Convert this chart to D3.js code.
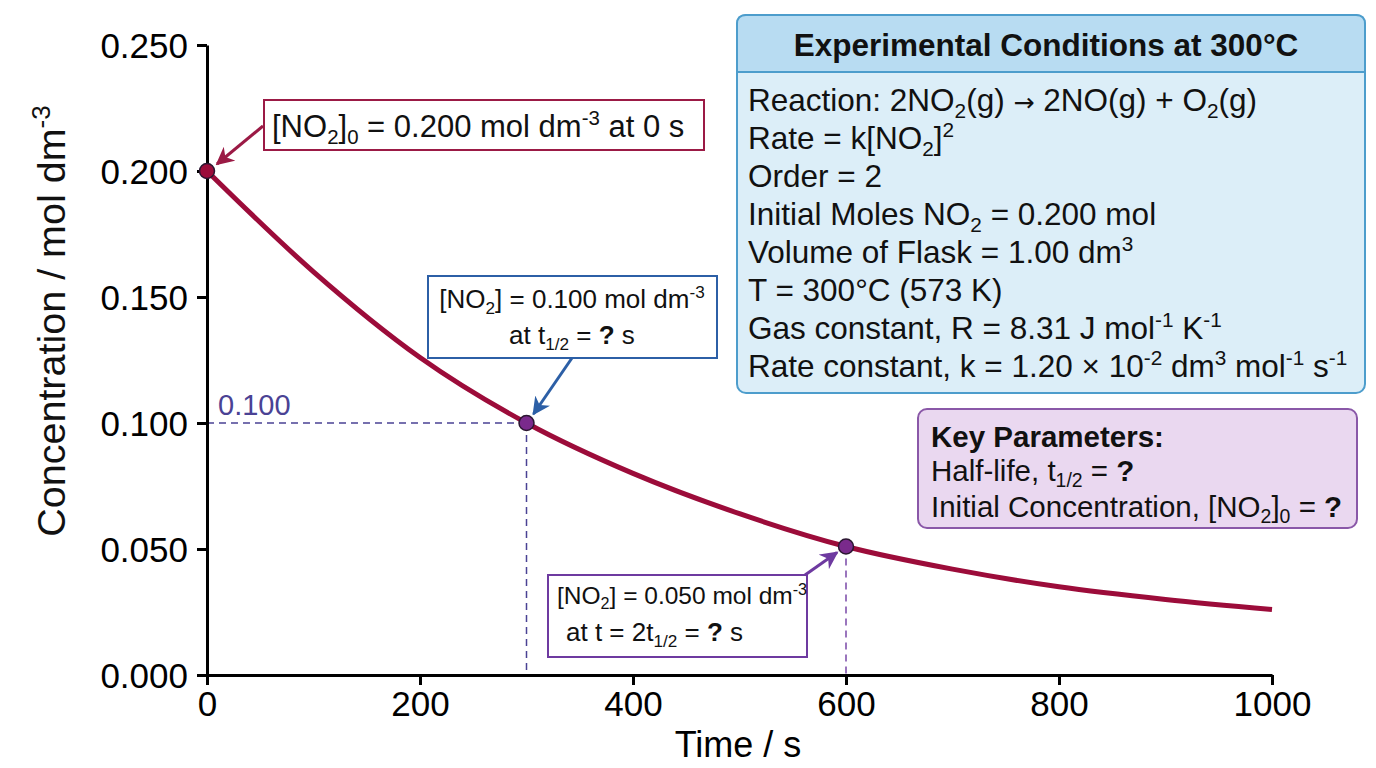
<!DOCTYPE html>
<html>
<head>
<meta charset="utf-8">
<script src="https://cdn.jsdelivr.net/npm/d3@7"></script>
<style>
  body { margin: 0; background: #fff; }
  svg { font-family: "Liberation Sans", Arial, sans-serif; }
</style>
</head>
<body>
<svg id="chart" width="1376" height="768"></svg>
<script>
// Data
const timeS = [0, 100, 200, 300, 400, 500, 600, 700, 800, 900, 1000];
const concNO2 = [0.200, 0.160, 0.126, 0.100, 0.080, 0.064, 0.051, 0.042, 0.035, 0.030, 0.026];
const markTime = [0, 300, 600];
const markConc = [0.200, 0.100, 0.051];
const xTicks = [0, 200, 400, 600, 800, 1000];
const yTicks = [0.000, 0.050, 0.100, 0.150, 0.200, 0.250];

const conditionLines = [
    [["Reaction: 2NO"], ["2", "sub"], ["(g) "], ["\u2192", "arrow"], [" 2NO(g) + O"], ["2", "sub"], ["(g)"]],
    [["Rate = k[NO"], ["2", "sub"], ["]"], ["2", "sup"]],
    [["Order = 2"]],
    [["Initial Moles NO"], ["2", "sub"], [" = 0.200 mol"]],
    [["Volume of Flask = 1.00 dm"], ["3", "sup"]],
    [["T = 300\u00B0C (573 K)"]],
    [["Gas constant, R = 8.31 J mol"], ["-1", "sup"], [" K"], ["-1", "sup"]],
    [["Rate constant, k = 1.20 \u00D7 10"], ["-2", "sup"], [" dm"], ["3", "sup"], [" mol"], ["-1", "sup"], [" s"], ["-1", "sup"]]
];

const svg = d3.select("#chart");

const x = d3.scaleLinear().domain([0, 1000]).range([207, 1272]);
const y = d3.scaleLinear().domain([0, 0.25]).range([675, 45]);

// text with sub/superscripts and bold parts
function rich(g, px, py, parts, size, anchor) {
    const t = g.append("text")
        .attr("x", px)
        .attr("y", py)
        .attr("font-size", size)
        .attr("text-anchor", anchor || "start")
        .attr("fill", "#111");
    let shift = 0;
    parts.forEach(([str, kind]) => {
        const target = kind === "sub" ? size * 0.22 : kind === "sup" ? -size * 0.38 : 0;
        const ts = t.append("tspan").attr("dy", target - shift).text(str);
        shift = target;
        if (kind === "sub" || kind === "sup") ts.attr("font-size", size * 0.66);
        if (kind === "b") ts.attr("font-weight", "bold");
        if (kind === "arrow") ts.attr("font-family", "'DejaVu Sans', sans-serif").attr("font-size", size * 0.8);
    });
    return t;
}

// arrow markers
const defs = svg.append("defs");
function marker(id, color) {
    defs.append("marker")
        .attr("id", id)
        .attr("viewBox", "0 0 10 10")
        .attr("refX", 9)
        .attr("refY", 5)
        .attr("markerWidth", 6)
        .attr("markerHeight", 6)
        .attr("orient", "auto")
        .append("path")
        .attr("d", "M0,0 L10,5 L0,10 L3,5 Z")
        .attr("fill", color);
}
marker("arrRed", "#9b1a45");
marker("arrBlue", "#2c5fa6");
marker("arrPurple", "#6e3aa0");

// dashed guides
svg.append("line")
    .attr("x1", x(0)).attr("x2", x(markTime[1]))
    .attr("y1", y(markConc[1])).attr("y2", y(markConc[1]))
    .attr("stroke", "#4a4294").attr("stroke-width", 1.5).attr("stroke-dasharray", "7,5");
svg.append("line")
    .attr("x1", x(markTime[1])).attr("x2", x(markTime[1]))
    .attr("y1", y(markConc[1])).attr("y2", y(0))
    .attr("stroke", "#4a4294").attr("stroke-width", 1.5).attr("stroke-dasharray", "7,5");
svg.append("line")
    .attr("x1", x(markTime[2])).attr("x2", x(markTime[2]))
    .attr("y1", y(markConc[2])).attr("y2", y(0))
    .attr("stroke", "#7a48a8").attr("stroke-width", 1.5).attr("stroke-dasharray", "7,5");

svg.append("text")
    .attr("x", x(0) + 11)
    .attr("y", y(markConc[1]) - 8)
    .attr("font-size", 29)
    .attr("fill", "#4a4294")
    .text("0.100");

// axes
const xAxis = svg.append("g")
    .attr("transform", `translate(0,${y(0)})`)
    .call(d3.axisBottom(x).tickValues(xTicks).tickFormat(d3.format("d"))
        .tickSize(10).tickSizeOuter(0).tickPadding(6));
const yAxis = svg.append("g")
    .attr("transform", `translate(${x(0)},0)`)
    .call(d3.axisLeft(y).tickValues(yTicks).tickFormat(d3.format(".3f"))
        .tickSize(10).tickSizeOuter(0).tickPadding(9));

[xAxis, yAxis].forEach(a => {
    a.select(".domain").attr("stroke", "#000").attr("stroke-width", 3);
    a.selectAll(".tick line").attr("stroke", "#000").attr("stroke-width", 3);
    a.selectAll(".tick text")
        .attr("fill", "#000")
        .style("font-size", "35px")
        .style("font-family", "'Liberation Sans', Arial, sans-serif");
});
yAxis.selectAll(".tick text").attr("dy", "0.36em");

// axis titles
svg.append("text")
    .attr("x", 738)
    .attr("y", 757)
    .attr("text-anchor", "middle")
    .attr("font-size", 36)
    .text("Time / s");

const yTitle = svg.append("g").attr("transform", "translate(65,321) rotate(-90)");
rich(yTitle, 0, 0, [["Concentration / mol dm"], ["-3", "sup"]], 39.5, "middle");

// curve
const line = d3.line()
    .x((d, i) => x(timeS[i]))
    .y(d => y(d))
    .curve(d3.curveMonotoneX);

svg.append("path")
    .datum(concNO2)
    .attr("d", line)
    .attr("fill", "none")
    .attr("stroke", "#9c0c3a")
    .attr("stroke-width", 5);

// marked points
const dotFill = ["#9c0c3a", "#7a2a8c", "#7a2a8c"];
svg.selectAll(".mark")
    .data(markConc)
    .join("circle")
    .attr("class", "mark")
    .attr("cx", (d, i) => x(markTime[i]))
    .attr("cy", d => y(d))
    .attr("r", 7.5)
    .attr("fill", (d, i) => dotFill[i])
    .attr("stroke", "#2a1630")
    .attr("stroke-width", 1.5);

// annotation boxes
const ann = svg.append("g");

ann.append("rect").attr("x", 264).attr("y", 100).attr("width", 440).attr("height", 50)
    .attr("fill", "#fff").attr("stroke", "#9b1a45").attr("stroke-width", 2);
rich(ann, 272, 137, [["[NO"], ["2", "sub"], ["]"], ["0", "sub"], [" = 0.200 mol dm"], ["-3", "sup"], [" at 0 s"]], 31);
ann.append("line")
    .attr("x1", 263).attr("y1", 126)
    .attr("x2", x(0) + 10).attr("y2", y(markConc[0]) - 7)
    .attr("stroke", "#9b1a45").attr("stroke-width", 3)
    .attr("marker-end", "url(#arrRed)");

ann.append("rect").attr("x", 428).attr("y", 276).attr("width", 289).attr("height", 82)
    .attr("fill", "#fff").attr("stroke", "#2c5fa6").attr("stroke-width", 2);
rich(ann, 572, 308, [["[NO"], ["2", "sub"], ["] = 0.100 mol dm"], ["-3", "sup"]], 26, "middle");
rich(ann, 572, 344, [["at t"], ["1/2", "sub"], [" = "], ["?", "b"], [" s"]], 26, "middle");
ann.append("line")
    .attr("x1", 572).attr("y1", 358)
    .attr("x2", x(markTime[1]) + 7).attr("y2", y(markConc[1]) - 9)
    .attr("stroke", "#2c5fa6").attr("stroke-width", 3)
    .attr("marker-end", "url(#arrBlue)");

ann.append("rect").attr("x", 548).attr("y", 575).attr("width", 259).attr("height", 82)
    .attr("fill", "#fff").attr("stroke", "#6e3aa0").attr("stroke-width", 2);
rich(ann, 557, 604, [["[NO"], ["2", "sub"], ["] = 0.050 mol dm"], ["-3", "sup"]], 24.5);
rich(ann, 566, 641, [["at t = 2t"], ["1/2", "sub"], [" = "], ["?", "b"], [" s"]], 26);
ann.append("line")
    .attr("x1", 805).attr("y1", 575)
    .attr("x2", x(markTime[2]) - 9).attr("y2", y(markConc[2]) + 6)
    .attr("stroke", "#6e3aa0").attr("stroke-width", 3)
    .attr("marker-end", "url(#arrPurple)");

// experimental conditions box
const info = svg.append("g");
info.append("rect").attr("x", 737).attr("y", 15).attr("width", 628).attr("height", 378).attr("rx", 9)
    .attr("fill", "#dceef8").attr("stroke", "#4d9dcc").attr("stroke-width", 2);
info.append("path")
    .attr("d", "M737,72 L737,24 Q737,15 746,15 L1356,15 Q1365,15 1365,24 L1365,72 Z")
    .attr("fill", "#b8dcf2").attr("stroke", "#4d9dcc").attr("stroke-width", 2);
info.append("text")
    .attr("x", 1046).attr("y", 56)
    .attr("text-anchor", "middle")
    .attr("font-size", 31.5).attr("font-weight", "bold")
    .attr("fill", "#111")
    .text("Experimental Conditions at 300\u00B0C");
conditionLines.forEach((parts, i) => {
    rich(info, 748, 111 + i * 38, parts, 31.5);
});

// key parameters box
const key = svg.append("g");
key.append("rect").attr("x", 918).attr("y", 409).attr("width", 439).attr("height", 119).attr("rx", 9)
    .attr("fill", "#ead8f0").attr("stroke", "#8a58a8").attr("stroke-width", 2);
rich(key, 931, 447, [["Key Parameters:", "b"]], 29.5);
rich(key, 931, 481, [["Half-life, t"], ["1/2", "sub"], [" = "], ["?", "b"]], 29.5);
rich(key, 931, 517, [["Initial Concentration, [NO"], ["2", "sub"], ["]"], ["0", "sub"], [" = "], ["?", "b"]], 29.5);
</script>
</body>
</html>
